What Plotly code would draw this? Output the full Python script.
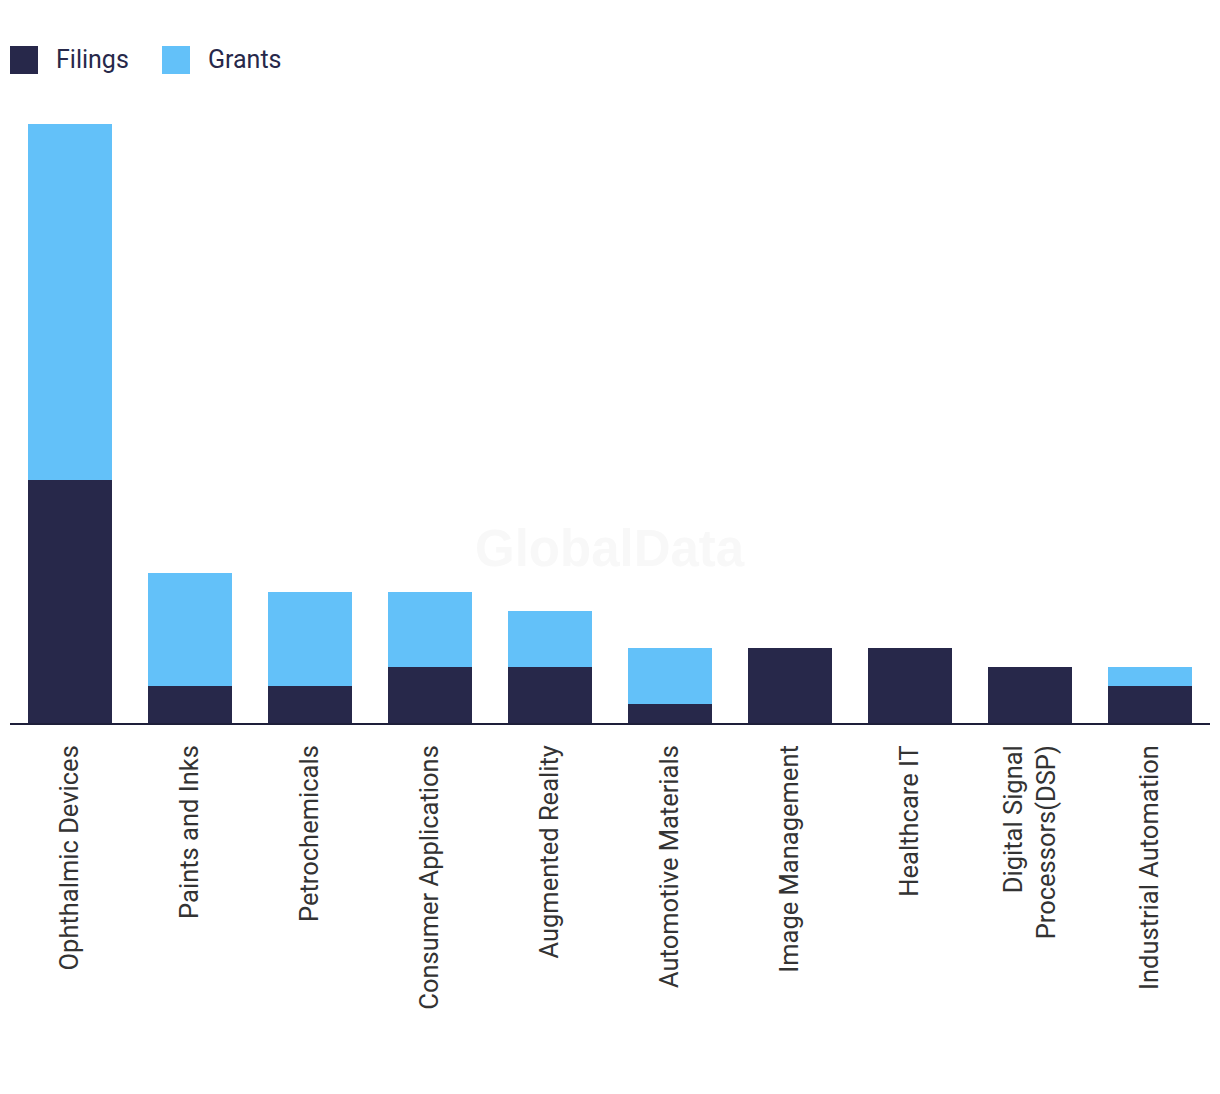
import plotly.graph_objects as go

categories = ["Ophthalmic Devices", "Paints and Inks", "Petrochemicals",
              "Consumer Applications", "Augmented Reality", "Automotive Materials",
              "Image Management", "Healthcare IT", "Digital Signal<br>Processors(DSP)",
              "Industrial Automation"]
filings = [13, 2, 2, 3, 3, 1, 4, 4, 3, 2]
grants = [19, 6, 5, 4, 3, 3, 0, 0, 0, 1]
series_names = ["Filings", "Grants"]
colors = ["#27284A", "#63C1F9"]

fig = go.Figure()
fig.add_trace(go.Bar(x=categories, y=filings, name=series_names[0],
                     marker=dict(color=colors[0], line=dict(width=0)), showlegend=False))
fig.add_trace(go.Bar(x=categories, y=grants, name=series_names[1],
                     marker=dict(color=colors[1], line=dict(width=0)), showlegend=False))

W, H = 1220, 1094
OFF = 8  # page body margin
ml, mr, mt, mb = 10 - OFF, 10 + OFF, 124 - OFF, 371 + OFF
pw, ph = W - ml - mr, H - mt - mb

# helpers: convert target-image pixel coords to paper coords
def px_x(x):
    return (x - OFF - ml) / pw

def px_y(y):
    return (H - mb - (y - OFF)) / ph

shapes = []
annotations = []
legend_x = [10, 162]
for i, nm in enumerate(series_names):
    x0 = legend_x[i]
    shapes.append(dict(type="rect", xref="paper", yref="paper",
                       x0=px_x(x0), x1=px_x(x0 + 28), y0=px_y(74), y1=px_y(46),
                       fillcolor=colors[i], line=dict(width=0)))
    annotations.append(dict(text=nm, xref="paper", yref="paper", x=px_x(x0 + 44), y=px_y(59),
                            xanchor="left", yanchor="middle", showarrow=False,
                            font=dict(family="Roboto", size=25, color="#27284A")))

annotations.append(dict(text="<b>GlobalData</b>", xref="paper", yref="paper",
                        x=px_x(610), y=px_y(548), xanchor="center", yanchor="middle",
                        showarrow=False,
                        font=dict(family="Liberation Sans", size=51, color="#F8F8F8")))

fig.update_layout(
    barmode="stack", bargap=0.3,
    width=W, height=H,
    margin=dict(l=ml, r=mr, t=mt, b=mb),
    plot_bgcolor="white", paper_bgcolor="white",
    shapes=shapes, annotations=annotations,
    font=dict(family="Roboto", color="#333333"),
    xaxis=dict(showline=True, linecolor="#1E1F3A", linewidth=2, tickangle=-90,
               tickfont=dict(size=25.5, color="#333333", family="Roboto"),
               ticks="", showgrid=False, ticklabelstandoff=10),
    yaxis=dict(range=[0, 32], visible=False, showgrid=False),
)

fig.write_html("out.html")
